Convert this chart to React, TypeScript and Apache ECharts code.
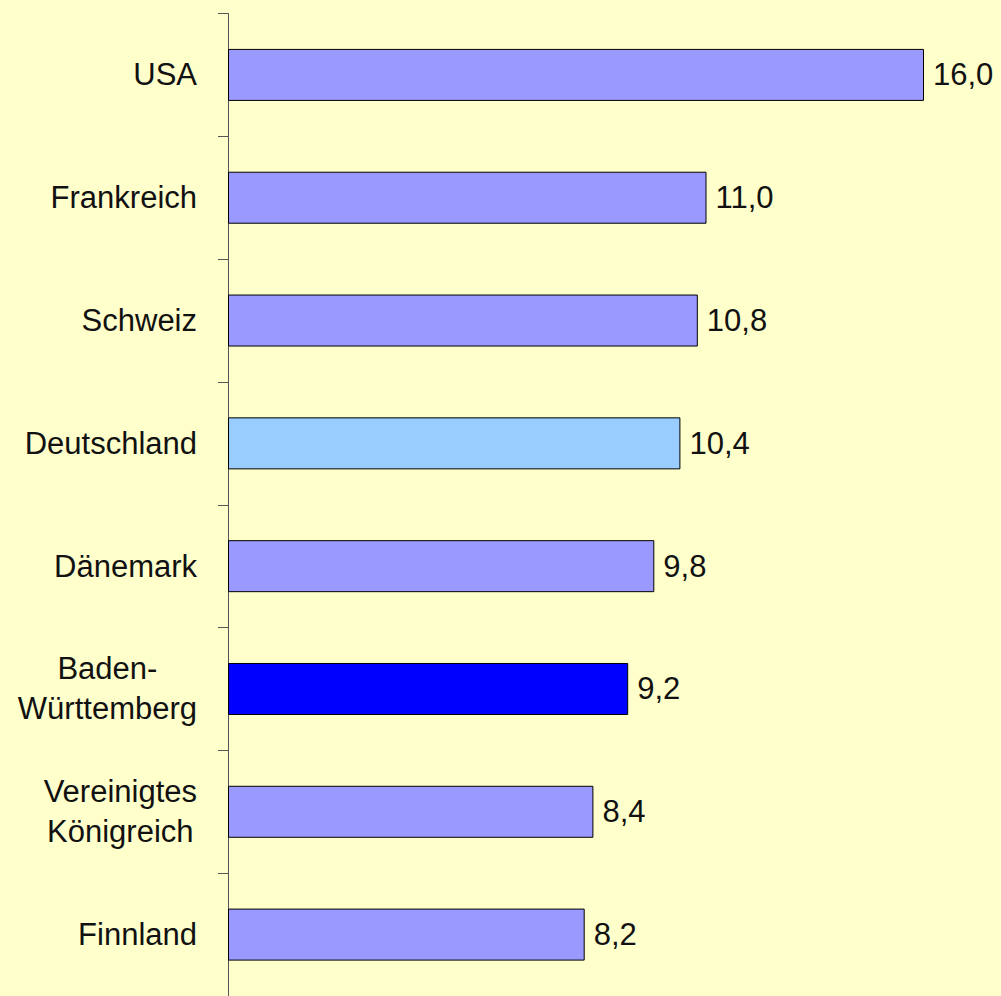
import React, { useEffect, useRef } from "react";
import * as echarts from "echarts";

const categories = [
  "USA",
  "Frankreich",
  "Schweiz",
  "Deutschland",
  "Dänemark",
  "Baden-\nWürttemberg",
  "Vereinigtes\nKönigreich",
  "Finnland",
];
const values = [16.0, 11.0, 10.8, 10.4, 9.8, 9.2, 8.4, 8.2];

const FONT = "Arial, 'Liberation Sans', sans-serif";
const BASE_COLOR = "#9999FF";
const SPECIAL_COLORS: Record<string, string> = {
  Deutschland: "#99CCFF",
  "Baden-\nWürttemberg": "#0000FF",
};

export default function App() {
  const ref = useRef<HTMLDivElement>(null);
  useEffect(() => {
    if (!ref.current) return;
    const chart = echarts.init(ref.current, null, { renderer: "svg" });
    chart.setOption({
      animation: false,
      backgroundColor: "#FFFFCC",
      grid: { left: 228, right: 77, top: 13.5, height: 987 },
      xAxis: { type: "value", min: 0, max: 16, show: false },
      yAxis: {
        type: "category",
        inverse: true,
        data: categories,
        axisLine: { show: true, lineStyle: { color: "#555555", width: 1 } },
        axisTick: { show: true, length: 10, lineStyle: { color: "#555555" } },
        axisLabel: {
          interval: 0,
          margin: 31,
          color: "#111",
          fontFamily: FONT,
          fontSize: 31,
          lineHeight: 40,
          formatter: (v: string) =>
            v
              .split("\n")
              .map((l) => `{c|${l}}`)
              .join("\n"),
          rich: {
            c: {
              align: "center",
              fontFamily: FONT,
              fontSize: 31,
              lineHeight: 40,
              color: "#111",
            },
          },
        },
      },
      series: [
        {
          type: "bar",
          barWidth: 52,
          data: values.map((v, i) => ({
            value: v,
            itemStyle: {
              color: SPECIAL_COLORS[categories[i]] || BASE_COLOR,
              borderColor: "#000",
              borderWidth: 1,
            },
          })),
          label: {
            show: true,
            position: "right",
            distance: 9,
            color: "#111",
            fontFamily: FONT,
            fontSize: 31,
            formatter: (p: any) => p.value.toFixed(1).replace(".", ","),
          },
        },
      ],
    });
    return () => chart.dispose();
  }, []);
  return (
    <div
      ref={ref}
      style={{ position: "absolute", left: 0, top: 0, width: 1001, height: 996 }}
    />
  );
}
